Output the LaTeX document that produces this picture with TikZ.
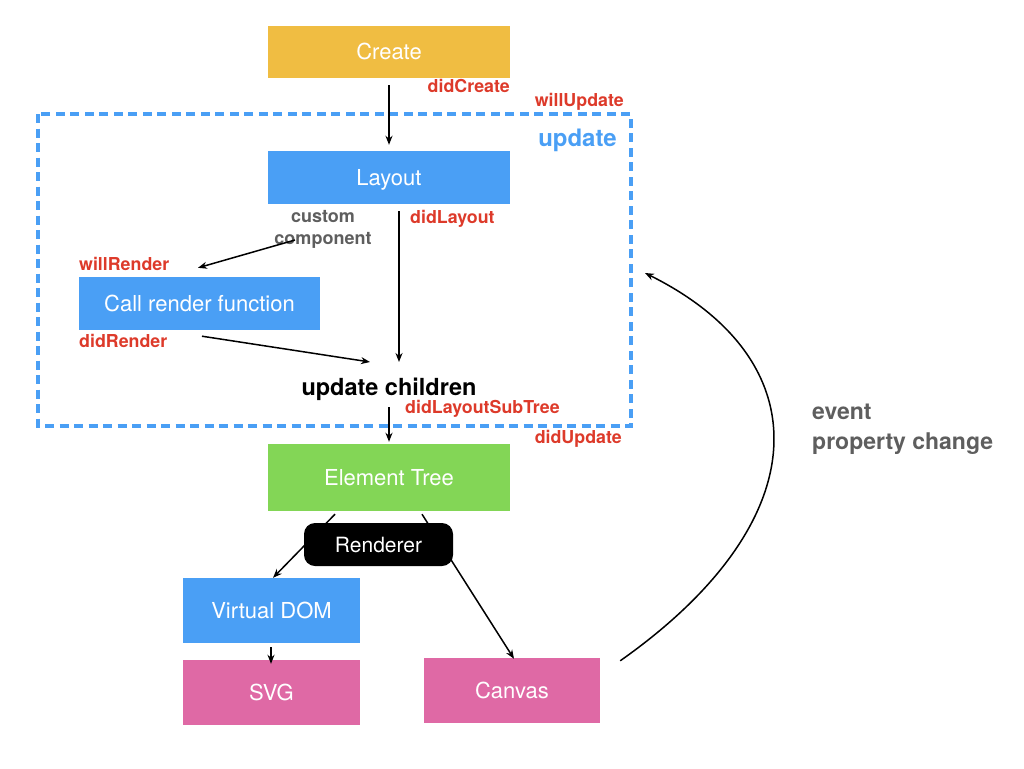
\documentclass[tikz,border=0pt]{standalone}
\usepackage{fontspec}
\setmainfont{TeX Gyre Heros}
\usetikzlibrary{arrows.meta}
\definecolor{cyellow}{HTML}{F0BD42}
\definecolor{cblue}{HTML}{4A9FF5}
\definecolor{cgreen}{HTML}{83D656}
\definecolor{cpink}{HTML}{DF69A5}
\definecolor{cred}{HTML}{DD3A2A}
\definecolor{cgray}{HTML}{5E5E5E}
\tikzset{
  box/.style={rectangle, inner sep=0pt, text=white, text height=15pt, text depth=0pt,
    font=\fontsize{22}{26}\selectfont},
  hook/.style={inner sep=0pt, text=cred, font=\bfseries\fontsize{17.8}{20}\selectfont},
  note/.style={inner sep=0pt, text=cgray, font=\bfseries\fontsize{18}{22}\selectfont, align=center},
  arr/.style={draw=black, line width=1.5pt, -{Stealth[length=9pt,width=7pt]}},
  plain/.style={draw=black, line width=1.5pt},
}
\begin{document}
\begin{tikzpicture}[x=1pt,y=-1pt]
\useasboundingbox (0,0) rectangle (1024,768);
% dashed update region
\draw[draw=cblue, line width=3.5pt, dash pattern=on 9pt off 5.5pt] (38,114) rectangle (631,426);
\node[inner sep=0pt, text=cblue, font=\bfseries\fontsize{24}{28}\selectfont, anchor=base east] (updlbl) at (617,146) {update};

% boxes
\node[box, fill=cyellow, minimum width=242pt, minimum height=52pt] (create) at (389,52) {Create};
\node[box, fill=cblue, minimum width=242pt, minimum height=53pt] (layout) at (389,177.5) {Layout};
\node[box, fill=cblue, minimum width=241pt, minimum height=53pt] (call) at (199.5,303.5) {Call render function};
\node[box, fill=cgreen, minimum width=242pt, minimum height=67pt] (et) at (389,477.5) {Element Tree};
\node[box, fill=cblue, minimum width=177pt, minimum height=65pt] (vd) at (271.5,610.5) {Virtual DOM};
\node[box, fill=cpink, minimum width=177pt, minimum height=65pt] (svg) at (271.5,692.5) {SVG};
\node[box, fill=cpink, minimum width=176pt, minimum height=65pt] (canvas) at (512,690.5) {Canvas};

% labels
\node[hook, anchor=base east] (didcreate) at (510,92) {didCreate};
\node[hook, anchor=base east] (willupdate) at (624,106) {willUpdate};
\node[note, anchor=base] (custom) at (323,244) {custom\\component};
\node[hook, anchor=base west] (didlayout) at (410,223) {didLayout};
\node[hook, anchor=base west] (willrender) at (79,270) {willRender};
\node[hook, anchor=base west] (didrender) at (79,347) {didRender};
\node[inner sep=0pt, font=\bfseries\fontsize{23.5}{28}\selectfont, anchor=base] (uc) at (389,395) {update children};
\node[hook, anchor=base west] (didsub) at (405,413) {didLayoutSubTree};
\node[hook, anchor=base east] (didupdate) at (622,443) {didUpdate};
\node[inner sep=0pt, text=cgray, font=\bfseries\fontsize{23}{30}\selectfont, align=left, anchor=base west] (event) at (812,449) {event\\property change};

% coordinates
\coordinate (ucin1) at (399,362);
\coordinate (ucin2) at (370,362);
\coordinate (ccstart) at (295,240);
\coordinate (curvestart) at ([xshift=20pt,yshift=-3pt]canvas.north east);
\coordinate (curveend) at (645,273);

% connectors
\draw[arr] ([yshift=-7pt]create.south) -- ([yshift=6pt]layout.north);
\draw[arr] ([xshift=10pt,yshift=-7pt]layout.south) -- (ucin1);
\draw[arr] (ccstart) -- ([xshift=-1.5pt,yshift=9pt]call.north);
\draw[arr] ([xshift=2.5pt,yshift=-6pt]call.south) -- (ucin2);
\draw[arr] ([yshift=-12pt]uc.base) -- ([yshift=2pt]et.north);
\draw[arr] ([xshift=-54pt,yshift=-3pt]et.south) -- ([xshift=1.5pt]vd.north);
\draw[arr] ([xshift=33pt,yshift=-3pt]et.south) -- ([xshift=2pt,yshift=-1pt]canvas.north);
\draw[arr] ([xshift=-0.5pt,yshift=-4pt]vd.south) -- ([xshift=-0.5pt,yshift=-4pt]svg.north);
\draw[arr] (curvestart) .. controls (820,520) and (820,360) .. (curveend);

% renderer on top of lines
\node[rectangle, rounded corners=11pt, fill=black, text=white, inner sep=0pt,
  minimum width=149pt, minimum height=43pt, text height=15pt, text depth=0pt,
  font=\fontsize{21}{25}\selectfont] (renderer) at (378.5,544.5) {Renderer};
\end{tikzpicture}
\end{document}
